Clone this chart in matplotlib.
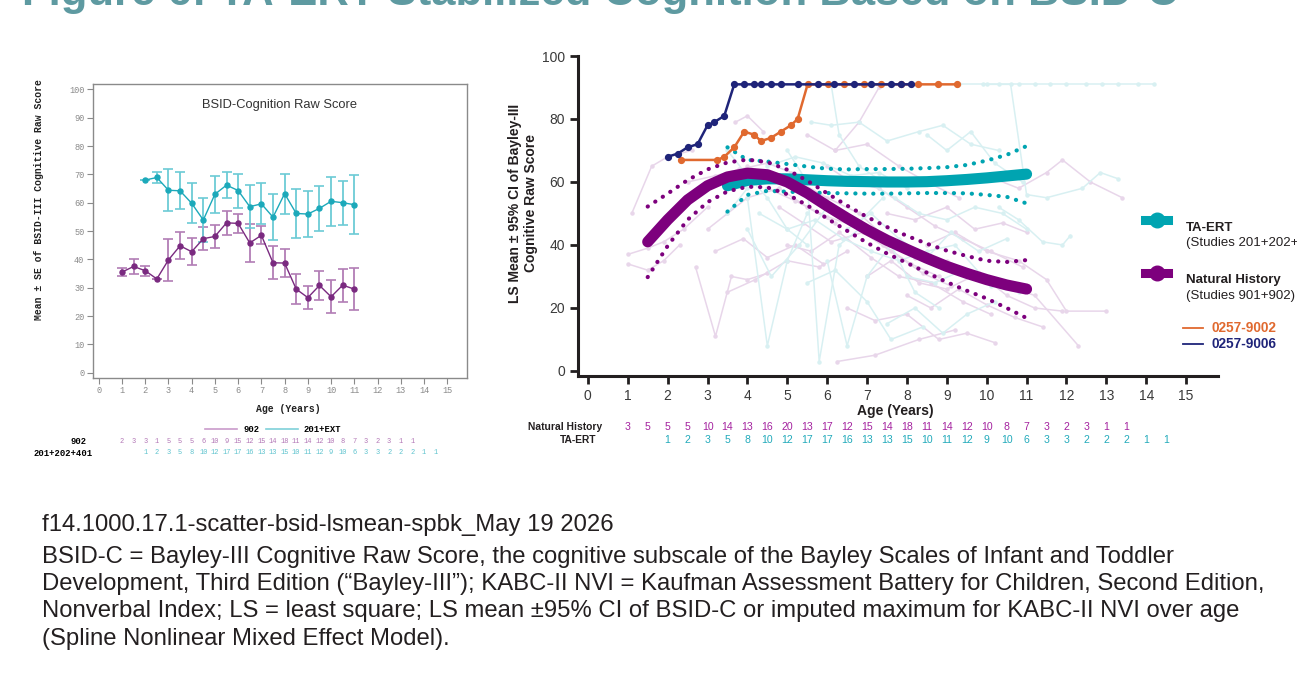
import matplotlib
matplotlib.use('Agg')
import matplotlib.pyplot as plt
from matplotlib.lines import Line2D
from matplotlib.transforms import blended_transform_factory

# ---------------- data: left panel ----------------
left_age_902 = [1, 1.5, 2, 2.5, 3, 3.5, 4, 4.5, 5, 5.5, 6, 6.5, 7, 7.5, 8, 8.5, 9, 9.5, 10, 10.5, 11]
left_mean_902 = [35.5, 37.5, 36.0, 33.1, 39.8, 44.8, 42.7, 47.3, 48.1, 52.9, 52.7, 45.8, 48.5, 38.8, 38.7,
                 29.5, 26.5, 30.8, 26.8, 30.9, 29.5]
left_se_902 = [1.4, 2.8, 1.7, 0, 7.4, 4.7, 4.8, 4.0, 4.0, 4.3, 3.4, 6.6, 3.2, 5.8, 5.0, 5.4, 4.0, 5.2, 5.9, 5.8, 7.5]

left_age_ert = [2, 2.5, 3, 3.5, 4, 4.5, 5, 5.5, 6, 6.5, 7, 7.5, 8, 8.5, 9, 9.5, 10, 10.5, 11]
left_mean_ert = [68.0, 68.9, 64.4, 64.2, 59.8, 53.9, 63.0, 66.2, 64.3, 58.6, 59.6, 54.9, 63.2, 56.2, 56.0,
                 58.0, 60.5, 60.0, 59.3]
left_se_ert = [0, 2.1, 7.5, 6.5, 7.1, 7.9, 6.5, 4.7, 6.0, 7.5, 7.2, 8.2, 7.1, 8.6, 8.1, 7.9, 8.7, 7.8, 10.5]

left_n_age_902 = [1 + 0.5 * i for i in range(26)]
left_n_902 = [2, 3, 3, 1, 5, 5, 5, 6, 10, 9, 15, 12, 15, 14, 18, 11, 14, 12, 10, 8, 7, 3, 2, 3, 1, 1]
left_n_age_ert = [2 + 0.5 * i for i in range(26)]
left_n_ert = [1, 2, 3, 5, 8, 10, 12, 17, 17, 16, 13, 13, 15, 10, 11, 12, 9, 10, 6, 3, 3, 2, 2, 2, 1, 1]

# ---------------- data: right panel ----------------
nh_age = [1.5, 2, 2.5, 3, 3.5, 4, 4.5, 5, 5.5, 6, 6.5, 7, 7.5, 8, 8.5, 9, 9.5, 10, 10.5, 11]
nh_mean = [41.0, 48.0, 54.3, 58.8, 61.6, 62.8, 62.3, 60.0, 56.5, 52.4, 48.5, 44.8, 41.5, 38.6, 35.8,
           33.2, 31.0, 29.0, 27.3, 26.0]
nh_upper = [52.2, 56.3, 60.6, 64.0, 66.2, 67.1, 66.3, 63.9, 60.4, 56.4, 52.5, 48.9, 45.7, 42.9, 40.4,
            38.2, 36.5, 35.0, 34.6, 35.2]
nh_lower = [29.8, 39.7, 48.0, 53.6, 57.0, 58.5, 58.3, 56.1, 52.6, 48.4, 44.5, 40.7, 37.3, 34.3, 31.2,
            28.2, 25.5, 23.0, 20.0, 16.8]

ert_age = [3.5, 4, 4.5, 5, 5.5, 6, 6.5, 7, 7.5, 8, 8.5, 9, 9.5, 10, 10.5, 11]
ert_mean = [58.8, 60.5, 61.0, 61.0, 60.7, 60.4, 60.2, 60.1, 60.0, 60.0, 60.1, 60.4, 60.8, 61.3, 61.9, 62.5]
ert_upper = [71.0, 67.0, 66.5, 65.7, 64.9, 64.2, 64.0, 64.1, 64.1, 64.2, 64.4, 64.7, 65.4, 66.8, 68.6, 71.4]
ert_lower = [50.6, 55.9, 57.2, 56.9, 56.7, 56.5, 56.4, 56.3, 56.3, 56.4, 56.5, 56.5, 56.4, 55.9, 55.3, 53.2]

p9002_age = [2.33, 3.25, 3.42, 3.67, 3.92, 4.17, 4.34, 4.59, 4.84, 5.09, 5.26, 5.51, 6.01, 6.43, 6.93,
             7.35, 7.85, 8.27, 8.77, 9.26]
p9002_val = [67, 67, 68, 71, 76, 75, 73, 74, 76, 78, 80, 91, 91, 91, 91, 91, 91, 91, 91, 91]
p9006_age = [2.0, 2.25, 2.5, 2.75, 3.0, 3.17, 3.42, 3.67, 3.92, 4.17, 4.34, 4.59, 4.84, 5.26, 5.76,
             6.18, 6.68, 7.10, 7.60, 7.85, 8.10]
p9006_val = [68, 69, 71, 72, 78, 79, 81, 91, 91, 91, 91, 91, 91, 91, 91, 91, 91, 91, 91, 91, 91]

nh_counts = [3, 5, 5, 5, 10, 14, 13, 16, 20, 13, 17, 12, 15, 14, 18, 11, 14, 12, 10, 8, 7, 3, 2, 3, 1, 1]
nh_count_age = [1 + 0.5 * i for i in range(26)]
ert_counts = [1, 2, 3, 5, 8, 10, 12, 17, 17, 16, 13, 13, 15, 10, 11, 12, 9, 10, 6, 3, 3, 2, 2, 2, 1, 1]
ert_count_age = [2 + 0.5 * i for i in range(26)]

# individual (faint) trajectories
nh_indiv = [
    ([1.1, 1.6, 2.0, 2.6], [50, 65, 68, 70]),
    ([1.0, 1.5, 1.9, 2.4, 3.0], [37, 39, 41, 45, 52]),
    ([1.0, 1.5, 1.9, 2.3], [34, 32, 35, 40]),
    ([2.7, 3.2, 3.6, 4.0, 4.5], [33, 11, 30, 29, 31]),
    ([3.7, 4.0, 4.4], [79, 81, 76]),
    ([6.2, 6.8, 7.3], [70, 79, 90]),
    ([6.25, 7.2, 8.3, 9.2], [3, 5, 10, 13]),
    ([3.0, 3.5, 4.0, 4.8, 5.5, 6.2], [45, 50, 55, 58, 52, 47]),
    ([4.0, 4.6, 5.3, 6.0, 6.8, 7.5, 8.2], [65, 62, 60, 55, 50, 42, 36]),
    ([5.0, 5.6, 6.3, 7.1, 7.8, 8.6, 9.4, 10.1], [40, 38, 44, 36, 30, 28, 22, 18]),
    ([7.0, 7.6, 8.3, 9.0, 9.8, 10.5, 11.2, 11.9], [30, 35, 28, 26, 31, 24, 20, 19]),
    ([8.5, 9.2, 10.0, 10.8, 11.5, 12.0, 13.0], [40, 44, 38, 35, 29, 19, 19]),
    ([10.0, 10.8, 11.5, 11.9, 12.6, 13.4], [62, 58, 63, 67, 60, 55]),
    ([4.5, 5.2, 6.0, 6.7, 7.4, 8.1, 8.8], [58, 54, 49, 46, 40, 34, 30]),
    ([2.5, 3.2, 3.8, 4.5, 5.1], [60, 62, 64, 66, 63]),
    ([9.0, 9.8, 10.5, 11.2, 12.3], [35, 30, 27, 24, 8]),
    ([5.5, 6.2, 7.0, 7.8, 8.5, 9.3], [75, 70, 72, 65, 60, 55]),
    ([3.5, 4.2, 5.0, 5.8, 6.5], [25, 29, 35, 33, 38]),
    ([6.5, 7.2, 8.0, 8.8, 9.5, 10.2], [20, 16, 18, 10, 12, 9]),
    ([7.5, 8.2, 9.0, 9.7, 10.4, 11.0], [50, 48, 52, 45, 47, 44]),
    ([4.8, 5.4, 6.1, 6.9, 7.6, 8.4, 9.1], [52, 47, 41, 44, 38, 31, 27]),
    ([6.0, 6.6, 7.3, 8.0, 8.7, 9.4, 10.1, 10.9], [65, 60, 58, 52, 46, 42, 38, 33]),
    ([8.0, 8.6, 9.3, 10.0, 10.7, 11.4], [24, 20, 26, 21, 17, 14]),
    ([3.2, 3.9, 4.5, 5.2, 5.9], [38, 42, 36, 40, 34]),
]
ert_indiv = [
    ([3.5, 4.0, 4.5, 5.0, 5.5], [70, 62, 55, 45, 40]),
    ([4.0, 4.5, 5.0, 5.5], [55, 8, 35, 50]),
    ([5.0, 5.5, 5.8, 6.3, 6.8], [70, 60, 3, 40, 45]),
    ([5.6, 6.1, 6.8, 7.5, 8.3, 8.9, 9.6, 10.3], [79, 78, 79, 73, 76, 78, 72, 70]),
    ([6.1, 6.3, 6.8, 7.4], [91, 75, 65, 60]),
    ([6.0, 6.5, 7.0, 7.6, 8.2, 8.8], [35, 8, 30, 40, 25, 20]),
    ([4.3, 5.0, 5.7, 6.4, 7.1, 7.8, 8.5, 9.2, 9.9], [50, 45, 48, 42, 38, 35, 38, 40, 30]),
    ([7.0, 7.7, 8.3, 9.0, 9.7, 10.4, 11.0], [60, 55, 50, 48, 52, 50, 45]),
    ([9.3, 9.9, 10.3, 10.8, 11.2, 11.6, 12.0, 12.5, 12.9, 13.3, 13.8, 14.2], [91] * 12),
    ([10.0, 10.6, 11.0, 11.5, 12.4, 12.85, 13.3], [91, 91, 56, 55, 58, 63, 61]),
    ([10.3, 10.8, 11.4, 11.9, 12.1], [52, 48, 41, 40, 43]),
    ([8.0, 8.7, 9.4, 10.1, 10.8], [30, 28, 32, 27, 25]),
    ([7.5, 8.2, 8.9, 9.5, 10.2], [15, 20, 12, 18, 22]),
    ([4.5, 5.2, 5.9, 6.6, 7.3, 8.0], [65, 68, 66, 62, 63, 58]),
    ([3.5, 4.0, 4.6], [50, 58, 62]),
    ([8.5, 9.0, 9.6, 10.2, 10.9], [75, 70, 76, 66, 60]),
    ([5.5, 6.2, 7.0, 7.6, 8.4], [28, 32, 22, 10, 14]),
    ([4.0, 4.6, 5.3, 6.0, 6.7, 7.4], [45, 30, 40, 52, 46, 55]),
    ([6.5, 7.1, 7.8, 8.5, 9.1, 9.8, 10.5], [45, 50, 42, 36, 44, 38, 42]),
]

# ---------------- figure ----------------
W, H = 1297, 692
fig = plt.figure(figsize=(W / 100, H / 100), dpi=100)


def fx(px):
    return px / W


def fy(py):
    return 1 - py / H


SANS = 'Liberation Sans'
MONO = 'Liberation Mono'

# title (cut off at the top edge in the reference)
fig.text(fx(22), fy(5), 'Figure 6: TA-ERT Stabilized Cognition Based on BSID-C', fontsize=31.4,
         fontweight='bold', color='#5E9AA1', family=SANS, va='baseline', ha='left')

# ---------------- left panel ----------------
PURP_L = '#7A2A80'
CYAN_L = '#1CA9BA'
axL = fig.add_axes([fx(92.7), fy(378), fx(467) - fx(92.7), fy(84) - fy(378)])
axL.set_xlim(-0.26, 15.85)
axL.set_ylim(-1.87, 101.9)
axL.errorbar(left_age_902, left_mean_902, yerr=left_se_902, fmt='none', ecolor='#B27DB5',
             elinewidth=1.3, capsize=3.3, capthick=1.2, zorder=2)
axL.errorbar(left_age_ert, left_mean_ert, yerr=left_se_ert, fmt='none', ecolor='#6CCBD5',
             elinewidth=1.3, capsize=3.3, capthick=1.2, zorder=2)
axL.plot(left_age_902, left_mean_902, color=PURP_L, lw=1.0, marker='o', ms=3.6, zorder=3)
axL.plot(left_age_ert, left_mean_ert, color=CYAN_L, lw=1.0, marker='o', ms=3.6, zorder=3)
axL.set_xticks(range(0, 16))
axL.set_yticks(range(0, 101, 10))
for sp in axL.spines.values():
    sp.set_color('#8A8A8A')
    sp.set_linewidth(1.0)
axL.tick_params(colors='#8A8A8A', labelcolor='#8A8A8A', length=4, width=0.8, labelsize=6.2, pad=2)
for lab in axL.get_xticklabels() + axL.get_yticklabels():
    lab.set_family(MONO)
axL.text(0.5, 0.93, 'BSID-Cognition Raw Score', transform=axL.transAxes, ha='center', va='center',
         fontsize=9.3, family=SANS, color='#333333')
fig.text(fx(39), fy(200), 'Mean \u00b1 SE of BSID-III Cognitive Raw Score', rotation=90, ha='center',
         va='center', fontsize=7.0, fontweight='bold', family=MONO, color='#222222')
fig.text(fx(288), fy(409), 'Age (Years)', ha='center', va='center', fontsize=7.0, fontweight='bold',
         family=MONO, color='#222222')
# left legend
fig.add_artist(Line2D([fx(205), fx(237)], [fy(429), fy(429)], color='#C99BCB', lw=1.2))
fig.text(fx(243), fy(429), '902', ha='left', va='center', fontsize=6.4, fontweight='bold', family=MONO)
fig.add_artist(Line2D([fx(266), fx(298)], [fy(429), fy(429)], color='#7FD1D9', lw=1.2))
fig.text(fx(304), fy(429), '201+EXT', ha='left', va='center', fontsize=6.4, fontweight='bold', family=MONO)
# left count rows
fig.text(fx(87), fy(441.5), '902', ha='right', va='center', fontsize=6.4, fontweight='bold', family=MONO)
fig.text(fx(93), fy(453), '201+202+401', ha='right', va='center', fontsize=6.4, fontweight='bold',
         family=MONO)
trL = blended_transform_factory(axL.transData, fig.transFigure)
for a, n in zip(left_n_age_902, left_n_902):
    axL.text(a, fy(441.5), str(n), transform=trL, ha='center', va='center', fontsize=5.0, family=MONO,
             color='#B276B6', clip_on=False)
for a, n in zip(left_n_age_ert, left_n_ert):
    axL.text(a, fy(453), str(n), transform=trL, ha='center', va='center', fontsize=5.0, family=MONO,
             color='#5EC3CE', clip_on=False)

# ---------------- right panel ----------------
PURP = '#7D007D'
TEAL = '#00A4B1'
ORANGE = '#E0692F'
NAVY = '#1F2479'
axR = fig.add_axes([fx(578.3), fy(376), fx(1218) - fx(578.3), fy(56) - fy(376)])
axR.set_xlim(-0.24, 15.8)
axR.set_ylim(-1.6, 100)

for ages, vals in nh_indiv:
    axR.plot(ages, vals, color='#E8D6EA', lw=1.1, marker='o', ms=2.2, zorder=1)
for ages, vals in ert_indiv:
    axR.plot(ages, vals, color='#D8F0F2', lw=1.1, marker='o', ms=2.2, zorder=1)

axR.plot(ert_age, ert_mean, color=TEAL, lw=8, solid_capstyle='round', zorder=3)
dot = (0, (0.05, 2.1))
axR.plot(ert_age, ert_upper, color=TEAL, lw=3.0, ls=dot, dash_capstyle='round', zorder=4)
axR.plot(ert_age, ert_lower, color=TEAL, lw=3.0, ls=dot, dash_capstyle='round', zorder=4)
axR.plot(nh_age, nh_mean, color=PURP, lw=8, solid_capstyle='round', zorder=5)
axR.plot(nh_age, nh_upper, color=PURP, lw=3.0, ls=dot, dash_capstyle='round', zorder=6)
axR.plot(nh_age, nh_lower, color=PURP, lw=3.0, ls=dot, dash_capstyle='round', zorder=6)

axR.plot(p9002_age, p9002_val, color=ORANGE, lw=1.8, marker='o', ms=4.2, zorder=7)
axR.plot(p9006_age, p9006_val, color=NAVY, lw=1.8, marker='o', ms=4.2, zorder=8)

axR.set_xticks(range(0, 16))
axR.set_yticks(range(0, 101, 20))
axR.spines['top'].set_visible(False)
axR.spines['right'].set_visible(False)
for s in ('left', 'bottom'):
    axR.spines[s].set_color('#231F20')
    axR.spines[s].set_linewidth(2.2)
axR.tick_params(colors='#231F20', labelcolor='#3A3A3A', length=5.5, width=2.0, labelsize=10, pad=4)
for lab in axR.get_xticklabels() + axR.get_yticklabels():
    lab.set_family(SANS)
fig.text(fx(523), fy(203), 'LS Mean \u00b1 95% CI of Bayley-III\nCognitive Raw Score', rotation=90,
         ha='center', va='center', fontsize=10, fontweight='bold', family=SANS, color='#231F20',
         linespacing=1.15)
fig.text(fx(895), fy(411), 'Age (Years)', ha='center', va='center', fontsize=10, fontweight='bold',
         family=SANS, color='#231F20')

# right count rows
fig.text(fx(602), fy(427), 'Natural History', ha='right', va='center', fontsize=7.4, fontweight='bold',
         family=SANS, color='#231F20')
fig.text(fx(596), fy(440), 'TA-ERT', ha='right', va='center', fontsize=7.4, fontweight='bold',
         family=SANS, color='#231F20')
trR = blended_transform_factory(axR.transData, fig.transFigure)
for a, n in zip(nh_count_age, nh_counts):
    axR.text(a, fy(427), str(n), transform=trR, ha='center', va='center', fontsize=7.6, family=SANS,
             color='#A4229F', clip_on=False)
for a, n in zip(ert_count_age, ert_counts):
    axR.text(a, fy(440), str(n), transform=trR, ha='center', va='center', fontsize=7.6, family=SANS,
             color='#22AABB', clip_on=False)

# right legend (the reference crops its last characters at the right edge)
for yc, col in ((220, TEAL), (272.5, PURP)):
    fig.add_artist(Line2D([fx(1145), fx(1168)], [fy(yc), fy(yc)], color=col, lw=6.5))
    fig.add_artist(Line2D([fx(1156.7)], [fy(yc)], color=col, marker='o', ms=10.5, lw=0))
fig.text(fx(1186), fy(228), 'TA-ERT', ha='left', va='center', fontsize=9.5, fontweight='bold', family=SANS,
         color='#231F20')
fig.text(fx(1186), fy(243), '(Studies 201+202+401)', ha='left', va='center', fontsize=9.5, family=SANS,
         color='#231F20')
fig.text(fx(1186), fy(279.5), 'Natural History', ha='left', va='center', fontsize=9.5, fontweight='bold',
         family=SANS, color='#231F20')
fig.text(fx(1186), fy(295.5), '(Studies 901+902)', ha='left', va='center', fontsize=9.5, family=SANS,
         color='#231F20')
fig.add_artist(Line2D([fx(1182.7), fx(1202.7)], [fy(328.3), fy(328.3)], color=ORANGE, lw=1.3))
fig.text(fx(1211), fy(328.3), '0257-9002', ha='left', va='center', fontsize=9.8, fontweight='bold',
         family=SANS, color=ORANGE)
fig.add_artist(Line2D([fx(1182.7), fx(1202.7)], [fy(344), fy(344)], color=NAVY, lw=1.3))
fig.text(fx(1211), fy(344), '0257-9006', ha='left', va='center', fontsize=9.8, fontweight='bold',
         family=SANS, color=NAVY)

# ---------------- footnote ----------------
foot = [
    (531, 'f14.1000.17.1-scatter-bsid-lsmean-spbk_May 19 2026'),
    (563, 'BSID-C = Bayley-III Cognitive Raw Score, the cognitive subscale of the Bayley Scales of Infant and Toddler'),
    (590, 'Development, Third Edition (\u201cBayley-III\u201d); KABC-II NVI = Kaufman Assessment Battery for Children, Second Edition,'),
    (617, 'Nonverbal Index; LS = least square; LS mean \u00b195% CI of BSID-C or imputed maximum for KABC-II NVI over age'),
    (645, '(Spline Nonlinear Mixed Effect Model).'),
]
for yy, t in foot:
    fig.text(fx(42), fy(yy), t, ha='left', va='baseline', fontsize=17.2, family=SANS, color='#231F20')

fig.savefig('out.png', dpi=100)
